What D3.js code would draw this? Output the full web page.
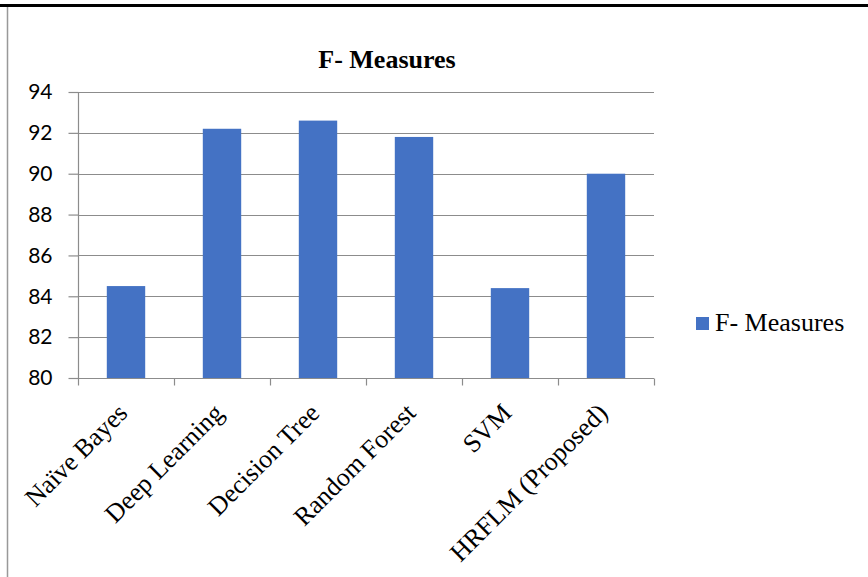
<!DOCTYPE html>
<html><head><meta charset="utf-8">
<script src="https://cdn.jsdelivr.net/npm/d3@7"></script>
<style>body{margin:0;background:#fff}svg{display:block}</style>
</head><body>
<script>
const categories = ["Naïve Bayes","Deep Learning","Decision Tree","Random Forest","SVM","HRFLM (Proposed)"];
const values = [84.5, 92.2, 92.6, 91.8, 84.4, 90.0];
const yTicks = [80,82,84,86,88,90,92,94];
const seriesName = "F- Measures";
const title = "F- Measures";

const W = 868, H = 577;
const svg = d3.select("body").append("svg").attr("width", W).attr("height", H);
const serif = "'Liberation Serif', 'Times New Roman', serif";

// page borders
svg.append("line").attr("x1",0).attr("x2",W).attr("y1",5.5).attr("y2",5.5).attr("stroke","#000").attr("stroke-width",3);
svg.append("line").attr("x1",7.5).attr("x2",7.5).attr("y1",7).attr("y2",H).attr("stroke","#999").attr("stroke-width",1.5);

const m = {left:78, right:654, top:92, bottom:378};
const x = d3.scaleBand().domain(categories).range([m.left, m.right]).paddingInner(0.6).paddingOuter(0.3);
const xb = d3.scaleBand().domain(categories).range([m.left, m.right]);
const y = d3.scaleLinear().domain([80,94]).range([m.bottom, m.top]);

// gridlines
svg.append("g").selectAll("line").data(yTicks.filter(d=>d>80)).join("line")
  .attr("x1",m.left).attr("x2",m.right).attr("y1",d=>Math.round(y(d))+0.5).attr("y2",d=>Math.round(y(d))+0.5)
  .attr("stroke","#8c8c8c").attr("stroke-width",1.2);

// y axis
const ya = svg.append("g").attr("transform",`translate(${m.left+0.5},0)`)
  .call(d3.axisLeft(y).tickValues(yTicks).tickSize(10).tickPadding(16).tickFormat(d3.format("d")));
ya.select(".domain").attr("stroke","#8c8c8c").attr("stroke-width",1.2).attr("d",`M0,${m.top}V${m.bottom}`);
ya.selectAll(".tick line").attr("stroke","#8c8c8c").attr("stroke-width",1.2);
ya.selectAll(".tick text").attr("font-family","Lato, 'Liberation Sans', sans-serif").attr("font-size",21).attr("fill","#000");

// bars
svg.append("g").selectAll("rect").data(values).join("rect")
  .attr("x",(d,i)=>x(categories[i])).attr("width",x.bandwidth())
  .attr("y",d=>y(d)).attr("height",d=>y(80)-y(d)).attr("fill","#4472C4");

// x axis
const xa = svg.append("g").attr("transform",`translate(0,${m.bottom+0.5})`);
xa.append("line").attr("x1",m.left).attr("x2",m.right).attr("stroke","#8c8c8c").attr("stroke-width",1.2);
const edges = categories.map(c=>xb(c)).concat([m.right]);
xa.selectAll("line.t").data(edges).join("line").attr("class","t")
  .attr("x1",d=>Math.round(d)+0.5).attr("x2",d=>Math.round(d)+0.5).attr("y1",0).attr("y2",7)
  .attr("stroke","#8c8c8c").attr("stroke-width",1.2);
xa.selectAll("text").data(categories).join("text")
  .attr("transform",d=>`translate(${xb(d)+xb.bandwidth()/2+3},${36}) rotate(-45)`)
  .attr("text-anchor","end").attr("font-family",serif)
  .attr("font-size",26).attr("fill","#000").text(d=>d);

// title
svg.append("text").attr("x",387).attr("y",68).attr("text-anchor","middle")
  .attr("font-family",serif).attr("font-weight","bold")
  .attr("font-size",26).text(title);

// legend
svg.append("rect").attr("x",696).attr("y",317).attr("width",13).attr("height",13).attr("fill","#4472C4");
svg.append("text").attr("x",715).attr("y",331).attr("font-family",serif)
  .attr("font-size",26).attr("fill","#000").text(seriesName);
</script>
</body></html>
